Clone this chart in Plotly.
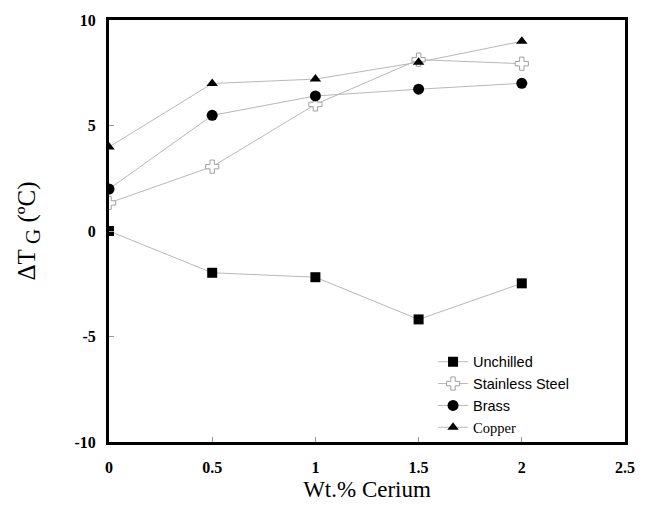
import plotly.graph_objects as go

wt_cerium = [0, 0.5, 1, 1.5, 2]
unchilled = [0.0, -1.98, -2.19, -4.19, -2.48]
stainless = [1.33, 3.05, 6.0, 8.12, 7.93]
brass = [1.99, 5.48, 6.4, 6.72, 7.0]
copper = [3.98, 6.99, 7.2, 8.0, 8.99]

x_ticks = [0, 0.5, 1, 1.5, 2, 2.5]
x_tick_labels = ["0", "0.5", "1", "1.5", "2", "2.5"]
y_ticks = [-10, -5, 0, 5, 10]
y_tick_labels = ["-10", "-5", "0", "5", "10"]

line_style = dict(color="#b8b8b8", width=1)
arial = "Arial, Liberation Sans, sans-serif"
times = "Times New Roman, Liberation Serif, serif"

fig = go.Figure()
fig.add_trace(go.Scatter(x=wt_cerium, y=unchilled, mode="lines+markers",
                         name="Unchilled", line=line_style,
                         marker=dict(symbol="square", size=10, color="black")))
fig.add_trace(go.Scatter(x=wt_cerium, y=stainless, mode="lines+markers",
                         name="Stainless Steel", line=line_style,
                         marker=dict(symbol="cross", size=11, color="white",
                                     line=dict(color="#a0a0a0", width=1))))
fig.add_trace(go.Scatter(x=wt_cerium, y=brass, mode="lines+markers",
                         name="Brass", line=line_style,
                         marker=dict(symbol="circle", size=11, color="black")))
fig.add_trace(go.Scatter(x=wt_cerium, y=copper, mode="lines+markers",
                         name=f"<span style='font-family:{times}'>Copper</span>",
                         line=line_style,
                         marker=dict(symbol="triangle-up", size=10, color="black")))

fig.update_layout(
    width=644, height=507,
    margin=dict(l=101, r=27, t=12, b=73),
    paper_bgcolor="white", plot_bgcolor="white",
    showlegend=True,
    legend=dict(x=0.628, y=0.228, xanchor="left", yanchor="top",
                bgcolor="rgba(0,0,0,0)", borderwidth=0,
                font=dict(family=arial, size=14.5, color="black"),
                tracegroupgap=0),
    font=dict(family=times, color="black"),
)
fig.update_xaxes(range=[0, 2.5], tickvals=x_ticks, ticktext=x_tick_labels,
                 automargin=False, ticklabelstandoff=9,
                 showgrid=False, zeroline=False, showline=True, mirror=True,
                 linecolor="black", linewidth=3, ticks="inside", ticklen=5,
                 tickcolor="#999999",
                 tickfont=dict(family=times, size=16, color="black", weight="bold"),
                 title=dict(text="Wt.% Cerium", font=dict(family=times, size=23),
                            standoff=6))
fig.update_yaxes(range=[-10, 10], tickvals=y_ticks, ticktext=y_tick_labels,
                 automargin=False, ticklabelstandoff=7,
                 showgrid=False, zeroline=False, showline=True, mirror=True,
                 linecolor="black", linewidth=3, ticks="inside", ticklen=5,
                 tickcolor="#999999",
                 tickfont=dict(family=times, size=16, color="black", weight="bold"),
                 title=dict(text="ΔT<sub><span style='font-size:21px'> G</span></sub> (ºC)",
                            font=dict(family=times, size=25),
                            standoff=32))

fig.write_html("out.html")
